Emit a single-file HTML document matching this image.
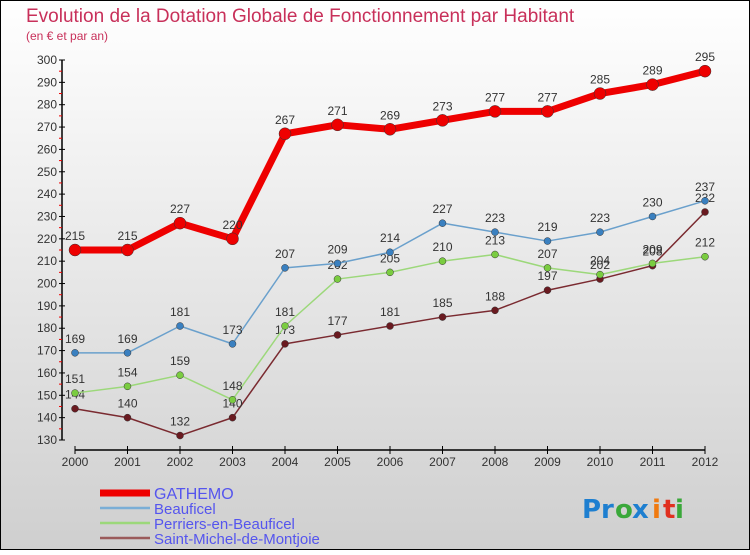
<!DOCTYPE html>
<html><head><meta charset="utf-8"><style>
html,body{margin:0;padding:0}
body{width:750px;height:550px;overflow:hidden;font-family:"Liberation Sans",sans-serif}
</style></head><body>
<svg width="750" height="550" xmlns="http://www.w3.org/2000/svg" id="svg">
<defs><linearGradient id="bg" x1="0" y1="0" x2="0" y2="1"><stop offset="0" stop-color="#ffffff"/><stop offset="1" stop-color="#cfcfcf"/></linearGradient></defs>
<rect x="0.5" y="0.5" width="749" height="549" fill="url(#bg)" stroke="#000"/>
<text x="26" y="22" font-size="19" fill="#c8305a">Evolution de la Dotation Globale de Fonctionnement par Habitant</text>
<text x="26" y="40" font-size="12" fill="#c8305a">(en € et par an)</text>
<g id="axes"></g><g id="series"></g><g id="legend"></g>
<g font-size="26" font-weight="bold" font-family="'DejaVu Sans',sans-serif">
<text x="582" y="518" fill="#1e7fd0">Pr</text><text x="615" y="518" fill="#3aa83a">o</text><text x="632" y="518" fill="#1e7fd0">x</text><text x="652" y="518" fill="#f07a10">i</text><text x="663" y="518" fill="#e03020">t</text><text x="675" y="518" fill="#3aa83a">i</text>
</g>
</svg>
<script>
const years=[2000,2001,2002,2003,2004,2005,2006,2007,2008,2009,2010,2011,2012];
const gathemo=[215,215,227,220,267,271,269,273,277,277,285,289,295];
const beauficel=[169,169,181,173,207,209,214,227,223,219,223,230,237];
const perriers=[151,154,159,148,181,202,205,210,213,207,204,209,212];
const saintMichel=[144,140,132,140,173,177,181,185,188,197,202,208,232];
const yTicks=[130,140,150,160,170,180,190,200,210,220,230,240,250,260,270,280,290,300];
const seriesNames=["GATHEMO","Beauficel","Perriers-en-Beauficel","Saint-Michel-de-Montjoie"];
const NS="http://www.w3.org/2000/svg";
function X(i){return 75+i*(630/(years.length-1));}
function Y(v){return 440-(v-130)*(380/170);}
function mk(tag,attrs,parent){const e=document.createElementNS(NS,tag);for(const k in attrs)e.setAttribute(k,attrs[k]);parent.appendChild(e);return e;}
const axes=document.getElementById('axes');
let ya=mk('line',{x1:62,y1:Y(300),x2:62,y2:Y(130),stroke:'#000','stroke-width':1.5},axes);


yTicks.forEach(v=>{
 mk('line',{x1:59,y1:Y(v),x2:65,y2:Y(v),stroke:'#000'},axes);
 if(v<300)mk('line',{x1:59,y1:Y(v+5),x2:62,y2:Y(v+5),stroke:'#e00'},axes);
 const t=mk('text',{x:57,y:Y(v)+4,'font-size':12,'text-anchor':'end',fill:'#333'},axes);t.textContent=v;
 
 
});
let xa=mk('line',{x1:75,y1:450,x2:705,y2:450,stroke:'#000','stroke-width':1.5},axes);


years.forEach((y,i)=>{
 mk('line',{x1:X(i),y1:446,x2:X(i),y2:454,stroke:'#000'},axes);
 const t=mk('text',{x:X(i),y:466,'font-size':12,'text-anchor':'middle',fill:'#333'},axes);t.textContent=y;
 
 
});
const ser=document.getElementById('series');
const defs=[[saintMichel,'#7a2a30','#6a1a20',1.5,3.5,'saint-michel'],[perriers,'#9cd87a','#7acc40',1.5,3.5,'perriers'],[beauficel,'#6aa0cc','#3a80c0',1.5,3.5,'beauficel'],[gathemo,'#ee0000','#ee0000',7,6,'gathemo']];
defs.forEach(([d,c,mc,w,r,n])=>{
 const g=mk('g',{},ser);
 
 
 mk('polyline',{points:d.map((v,i)=>X(i)+','+Y(v)).join(' '),fill:'none',stroke:c,'stroke-width':w,'stroke-linejoin':'round'},g);
 d.forEach((v,i)=>{
  const p=mk('circle',{cx:X(i),cy:Y(v),r:r,fill:mc,stroke:'#333','stroke-width':0.5},g);
  
  
  const t=mk('text',{x:X(i),y:Y(v)-10,'font-size':12,'text-anchor':'middle',fill:'#333'},g);t.textContent=v;
  
  
 });
});
const lg=document.getElementById('legend');
const lc=['#ee0000','#7aaed6','#9cd87a','#9a5a5a'];const lw=[7,2.5,2.5,2.5];
seriesNames.forEach((s,i)=>{
 const y=493+i*15;
 const g=mk('g',{},lg);
 
 
 mk('line',{x1:100,y1:y,x2:150,y2:y,stroke:lc[i],'stroke-width':lw[i]},g);
 const t=mk('text',{x:154,y:y+6,'font-size':i==0?16:15,fill:'#5555ee'},g);t.textContent=s;
});
</script>
</body></html>
